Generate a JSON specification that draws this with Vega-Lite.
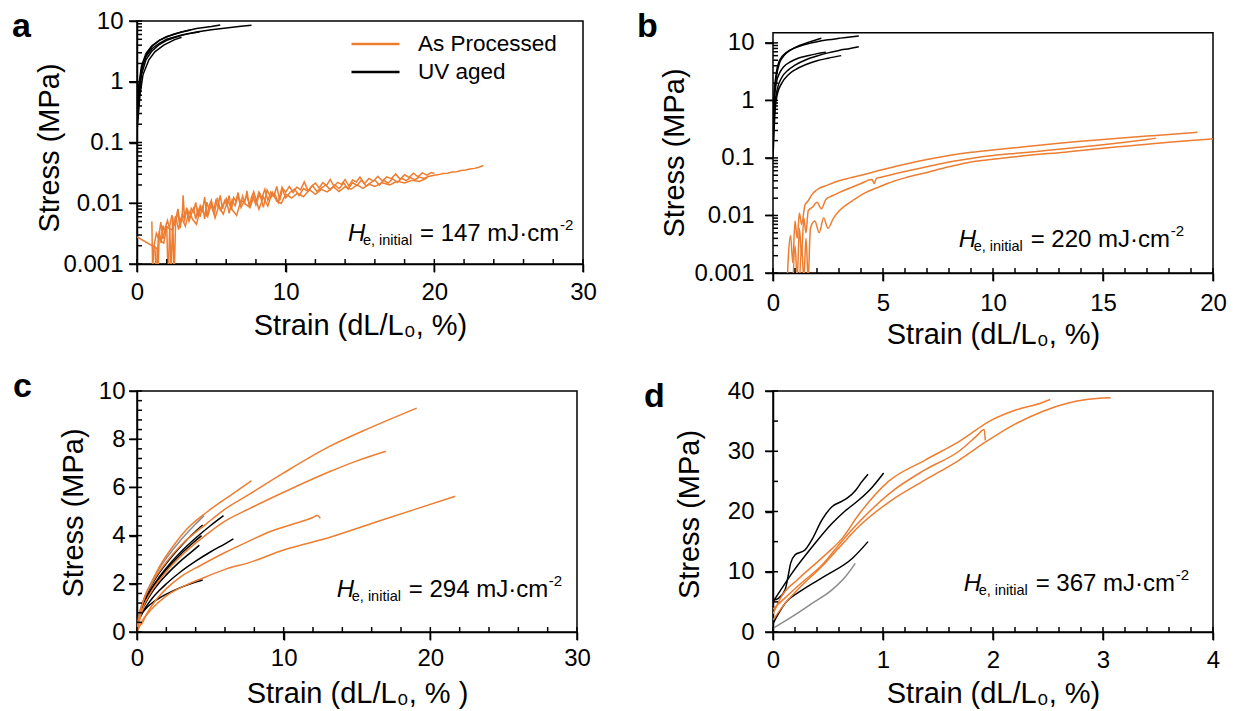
{
  "$schema": "https://vega.github.io/schema/vega-lite/v6.json",
  "autosize": {"type": "none"},
  "padding": {"left": 137, "top": 21, "right": 1097, "bottom": 690},
  "background": "white",
  "columns": 2,
  "spacing": {"row": 118, "column": 190},
  "bounds": "flush",
  "align": {"row": "all", "column": "none"},
  "resolve": {"scale": {"color": "independent"}, "legend": {"color": "independent"}},
  "concat": [
    {
      "width": 446, "height": 243,
      "title": {"text": "a", "anchor": "start", "frame": "group", "orient": "top", "offset": 0, "dx": -125, "dy": 62, "baseline": "alphabetic", "fontSize": 34, "fontWeight": "bold", "font": "Liberation Sans", "color": "black"},
      "layer": [
        {"data": {"values": [
      {"s":"O1","g":"As Processed","x":1.0,"y":0.005},{"s":"O1","g":"As Processed","x":1.05,"y":0.0008},{"s":"O1","g":"As Processed","x":1.15,"y":0.002},{"s":"O1","g":"As Processed","x":1.3,"y":0.0032},{"s":"O1","g":"As Processed","x":1.45,"y":0.0026},{"s":"O1","g":"As Processed","x":1.6,"y":0.0049},{"s":"O1","g":"As Processed","x":1.75,"y":0.0026},{"s":"O1","g":"As Processed","x":1.9,"y":0.004},{"s":"O1","g":"As Processed","x":2.05,"y":0.0052},{"s":"O1","g":"As Processed","x":2.2,"y":0.0038},{"s":"O1","g":"As Processed","x":2.3,"y":0.0007},{"s":"O1","g":"As Processed","x":2.4,"y":0.006},{"s":"O1","g":"As Processed","x":2.5,"y":0.0006},{"s":"O1","g":"As Processed","x":2.6,"y":0.0052},{"s":"O1","g":"As Processed","x":2.75,"y":0.0081},{"s":"O1","g":"As Processed","x":2.9,"y":0.0048},{"s":"O1","g":"As Processed","x":3.05,"y":0.0067},{"s":"O1","g":"As Processed","x":3.1,"y":0.0135},{"s":"O1","g":"As Processed","x":3.2,"y":0.0057},{"s":"O1","g":"As Processed","x":3.35,"y":0.0085},{"s":"O1","g":"As Processed","x":3.5,"y":0.0051},{"s":"O1","g":"As Processed","x":3.65,"y":0.0082},{"s":"O1","g":"As Processed","x":3.8,"y":0.0072},{"s":"O1","g":"As Processed","x":3.95,"y":0.0103},{"s":"O1","g":"As Processed","x":4.1,"y":0.0061},{"s":"O1","g":"As Processed","x":4.25,"y":0.0091},{"s":"O1","g":"As Processed","x":4.4,"y":0.0072},{"s":"O1","g":"As Processed","x":4.55,"y":0.0126},{"s":"O1","g":"As Processed","x":4.7,"y":0.0062},{"s":"O1","g":"As Processed","x":4.85,"y":0.0091},{"s":"O1","g":"As Processed","x":5.0,"y":0.0112},{"s":"O1","g":"As Processed","x":5.15,"y":0.0076},{"s":"O1","g":"As Processed","x":5.3,"y":0.011},{"s":"O1","g":"As Processed","x":5.45,"y":0.0088},{"s":"O1","g":"As Processed","x":5.6,"y":0.0135},{"s":"O1","g":"As Processed","x":5.75,"y":0.008},{"s":"O1","g":"As Processed","x":5.9,"y":0.0109},{"s":"O1","g":"As Processed","x":6.05,"y":0.0093},{"s":"O1","g":"As Processed","x":6.2,"y":0.0134},{"s":"O1","g":"As Processed","x":6.35,"y":0.0078},{"s":"O1","g":"As Processed","x":6.5,"y":0.0124},{"s":"O1","g":"As Processed","x":6.65,"y":0.0107},{"s":"O1","g":"As Processed","x":6.8,"y":0.015},{"s":"O1","g":"As Processed","x":6.95,"y":0.0088},{"s":"O1","g":"As Processed","x":7.1,"y":0.0131},{"s":"O1","g":"As Processed","x":7.25,"y":0.0103},{"s":"O1","g":"As Processed","x":7.4,"y":0.016},{"s":"O1","g":"As Processed","x":7.55,"y":0.0088},{"s":"O1","g":"As Processed","x":7.7,"y":0.0126},{"s":"O1","g":"As Processed","x":7.85,"y":0.0154},{"s":"O1","g":"As Processed","x":8.0,"y":0.0104},{"s":"O1","g":"As Processed","x":8.2,"y":0.0153},{"s":"O1","g":"As Processed","x":8.4,"y":0.0122},{"s":"O1","g":"As Processed","x":8.6,"y":0.017},{"s":"O1","g":"As Processed","x":8.8,"y":0.0111},{"s":"O1","g":"As Processed","x":9.0,"y":0.0152},{"s":"O1","g":"As Processed","x":9.2,"y":0.013},{"s":"O1","g":"As Processed","x":9.4,"y":0.0189},{"s":"O1","g":"As Processed","x":9.6,"y":0.0111},{"s":"O1","g":"As Processed","x":9.8,"y":0.0176},{"s":"O1","g":"As Processed","x":10.0,"y":0.0152},{"s":"O1","g":"As Processed","x":10.25,"y":0.019},{"s":"O1","g":"As Processed","x":10.5,"y":0.015},{"s":"O1","g":"As Processed","x":10.75,"y":0.0184},{"s":"O1","g":"As Processed","x":11.0,"y":0.0166},{"s":"O1","g":"As Processed","x":11.25,"y":0.0224},{"s":"O1","g":"As Processed","x":11.5,"y":0.016},{"s":"O1","g":"As Processed","x":11.75,"y":0.0191},{"s":"O1","g":"As Processed","x":12.0,"y":0.0215},{"s":"O1","g":"As Processed","x":12.25,"y":0.0179},{"s":"O1","g":"As Processed","x":12.5,"y":0.0219},{"s":"O1","g":"As Processed","x":12.75,"y":0.0196},{"s":"O1","g":"As Processed","x":13.0,"y":0.0246},{"s":"O1","g":"As Processed","x":13.25,"y":0.019},{"s":"O1","g":"As Processed","x":13.5,"y":0.0221},{"s":"O1","g":"As Processed","x":13.75,"y":0.0205},{"s":"O1","g":"As Processed","x":14.0,"y":0.0246},{"s":"O1","g":"As Processed","x":14.25,"y":0.0193},{"s":"O1","g":"As Processed","x":14.5,"y":0.0242},{"s":"O1","g":"As Processed","x":14.75,"y":0.0224},{"s":"O1","g":"As Processed","x":15.0,"y":0.027},{"s":"O1","g":"As Processed","x":15.3,"y":0.021},{"s":"O1","g":"As Processed","x":15.6,"y":0.0256},{"s":"O1","g":"As Processed","x":15.9,"y":0.0231},{"s":"O1","g":"As Processed","x":16.2,"y":0.0278},{"s":"O1","g":"As Processed","x":16.5,"y":0.0232},{"s":"O1","g":"As Processed","x":16.8,"y":0.0272},{"s":"O1","g":"As Processed","x":17.1,"y":0.0254},{"s":"O1","g":"As Processed","x":17.4,"y":0.0304},{"s":"O1","g":"As Processed","x":17.7,"y":0.0248},{"s":"O1","g":"As Processed","x":18.0,"y":0.0294},{"s":"O1","g":"As Processed","x":18.3,"y":0.0267},{"s":"O1","g":"As Processed","x":18.6,"y":0.0312},{"s":"O1","g":"As Processed","x":18.9,"y":0.0272},{"s":"O1","g":"As Processed","x":19.2,"y":0.0316},{"s":"O1","g":"As Processed","x":19.5,"y":0.029},{"s":"O1","g":"As Processed","x":19.8,"y":0.0319},{"s":"O1","g":"As Processed","x":20.0,"y":0.031},
      {"s":"O2","g":"As Processed","x":0,"y":0.0028},{"s":"O2","g":"As Processed","x":1.35,"y":0.0018},{"s":"O2","g":"As Processed","x":1.4,"y":0.0005},{"s":"O2","g":"As Processed","x":1.5,"y":0.0035},{"s":"O2","g":"As Processed","x":1.62,"y":0.0022},{"s":"O2","g":"As Processed","x":1.75,"y":0.0043},{"s":"O2","g":"As Processed","x":1.88,"y":0.0033},{"s":"O2","g":"As Processed","x":2.0,"y":0.0042},{"s":"O2","g":"As Processed","x":2.1,"y":0.0005},{"s":"O2","g":"As Processed","x":2.2,"y":0.0042},{"s":"O2","g":"As Processed","x":2.35,"y":0.0064},{"s":"O2","g":"As Processed","x":2.48,"y":0.0042},{"s":"O2","g":"As Processed","x":2.6,"y":0.0055},{"s":"O2","g":"As Processed","x":2.75,"y":0.0068},{"s":"O2","g":"As Processed","x":2.9,"y":0.0039},{"s":"O2","g":"As Processed","x":3.05,"y":0.0067},{"s":"O2","g":"As Processed","x":3.2,"y":0.0053},{"s":"O2","g":"As Processed","x":3.35,"y":0.0079},{"s":"O2","g":"As Processed","x":3.5,"y":0.0051},{"s":"O2","g":"As Processed","x":3.65,"y":0.0066},{"s":"O2","g":"As Processed","x":3.8,"y":0.0082},{"s":"O2","g":"As Processed","x":3.95,"y":0.0055},{"s":"O2","g":"As Processed","x":4.1,"y":0.008},{"s":"O2","g":"As Processed","x":4.25,"y":0.006},{"s":"O2","g":"As Processed","x":4.4,"y":0.0092},{"s":"O2","g":"As Processed","x":4.55,"y":0.0055},{"s":"O2","g":"As Processed","x":4.7,"y":0.0104},{"s":"O2","g":"As Processed","x":4.85,"y":0.0078},{"s":"O2","g":"As Processed","x":5.0,"y":0.0092},{"s":"O2","g":"As Processed","x":5.2,"y":0.0065},{"s":"O2","g":"As Processed","x":5.4,"y":0.0123},{"s":"O2","g":"As Processed","x":5.6,"y":0.0077},{"s":"O2","g":"As Processed","x":5.8,"y":0.0097},{"s":"O2","g":"As Processed","x":6.0,"y":0.0119},{"s":"O2","g":"As Processed","x":6.2,"y":0.0068},{"s":"O2","g":"As Processed","x":6.4,"y":0.0114},{"s":"O2","g":"As Processed","x":6.6,"y":0.0091},{"s":"O2","g":"As Processed","x":6.8,"y":0.0135},{"s":"O2","g":"As Processed","x":7.0,"y":0.0085},{"s":"O2","g":"As Processed","x":7.2,"y":0.0108},{"s":"O2","g":"As Processed","x":7.4,"y":0.0132},{"s":"O2","g":"As Processed","x":7.6,"y":0.0088},{"s":"O2","g":"As Processed","x":7.8,"y":0.0127},{"s":"O2","g":"As Processed","x":8.0,"y":0.0094},{"s":"O2","g":"As Processed","x":8.25,"y":0.0144},{"s":"O2","g":"As Processed","x":8.5,"y":0.0086},{"s":"O2","g":"As Processed","x":8.75,"y":0.0165},{"s":"O2","g":"As Processed","x":9.0,"y":0.0124},{"s":"O2","g":"As Processed","x":9.25,"y":0.0147},{"s":"O2","g":"As Processed","x":9.5,"y":0.0103},{"s":"O2","g":"As Processed","x":9.75,"y":0.0182},{"s":"O2","g":"As Processed","x":10.0,"y":0.0122},{"s":"O2","g":"As Processed","x":10.3,"y":0.0152},{"s":"O2","g":"As Processed","x":10.6,"y":0.0171},{"s":"O2","g":"As Processed","x":10.9,"y":0.0133},{"s":"O2","g":"As Processed","x":11.2,"y":0.0175},{"s":"O2","g":"As Processed","x":11.5,"y":0.0158},{"s":"O2","g":"As Processed","x":11.8,"y":0.0196},{"s":"O2","g":"As Processed","x":12.1,"y":0.0157},{"s":"O2","g":"As Processed","x":12.4,"y":0.0178},{"s":"O2","g":"As Processed","x":12.7,"y":0.02},{"s":"O2","g":"As Processed","x":13.0,"y":0.0166},{"s":"O2","g":"As Processed","x":13.3,"y":0.02},{"s":"O2","g":"As Processed","x":13.6,"y":0.0174},{"s":"O2","g":"As Processed","x":13.9,"y":0.0217},{"s":"O2","g":"As Processed","x":14.2,"y":0.017},{"s":"O2","g":"As Processed","x":14.5,"y":0.0219},{"s":"O2","g":"As Processed","x":14.8,"y":0.0196},{"s":"O2","g":"As Processed","x":15.1,"y":0.0242},{"s":"O2","g":"As Processed","x":15.4,"y":0.0192},{"s":"O2","g":"As Processed","x":15.7,"y":0.0216},{"s":"O2","g":"As Processed","x":16.0,"y":0.0242},{"s":"O2","g":"As Processed","x":16.3,"y":0.0199},{"s":"O2","g":"As Processed","x":16.6,"y":0.0239},{"s":"O2","g":"As Processed","x":16.9,"y":0.0215},{"s":"O2","g":"As Processed","x":17.2,"y":0.0254},{"s":"O2","g":"As Processed","x":17.5,"y":0.022},{"s":"O2","g":"As Processed","x":17.8,"y":0.0258},{"s":"O2","g":"As Processed","x":18.1,"y":0.0235},{"s":"O2","g":"As Processed","x":18.4,"y":0.0264},{"s":"O2","g":"As Processed","x":18.7,"y":0.0245},{"s":"O2","g":"As Processed","x":19.0,"y":0.0269},{"s":"O2","g":"As Processed","x":19.3,"y":0.0256},{"s":"O2","g":"As Processed","x":19.6,"y":0.0276},{"s":"O2","g":"As Processed","x":20.0,"y":0.029},{"s":"O2","g":"As Processed","x":20.3,"y":0.0296},{"s":"O2","g":"As Processed","x":20.6,"y":0.0308},{"s":"O2","g":"As Processed","x":20.9,"y":0.0312},{"s":"O2","g":"As Processed","x":21.2,"y":0.0326},{"s":"O2","g":"As Processed","x":21.5,"y":0.0331},{"s":"O2","g":"As Processed","x":21.8,"y":0.0345},{"s":"O2","g":"As Processed","x":22.1,"y":0.0352},{"s":"O2","g":"As Processed","x":22.4,"y":0.0366},{"s":"O2","g":"As Processed","x":22.7,"y":0.0375},{"s":"O2","g":"As Processed","x":23.0,"y":0.0392},{"s":"O2","g":"As Processed","x":23.3,"y":0.0418},
      {"s":"O3","g":"As Processed","x":1.2,"y":0.002},{"s":"O3","g":"As Processed","x":1.3,"y":0.0006},{"s":"O3","g":"As Processed","x":1.45,"y":0.0032},{"s":"O3","g":"As Processed","x":1.6,"y":0.0024},{"s":"O3","g":"As Processed","x":1.8,"y":0.0022},{"s":"O3","g":"As Processed","x":2.0,"y":0.0041},{"s":"O3","g":"As Processed","x":2.2,"y":0.0038},{"s":"O3","g":"As Processed","x":2.4,"y":0.0036},{"s":"O3","g":"As Processed","x":2.6,"y":0.0062},{"s":"O3","g":"As Processed","x":2.8,"y":0.0037},{"s":"O3","g":"As Processed","x":3.0,"y":0.0058},{"s":"O3","g":"As Processed","x":3.25,"y":0.0042},{"s":"O3","g":"As Processed","x":3.5,"y":0.0074},{"s":"O3","g":"As Processed","x":3.75,"y":0.0054},{"s":"O3","g":"As Processed","x":4.0,"y":0.0045},{"s":"O3","g":"As Processed","x":4.25,"y":0.0079},{"s":"O3","g":"As Processed","x":4.5,"y":0.0069},{"s":"O3","g":"As Processed","x":4.75,"y":0.006},{"s":"O3","g":"As Processed","x":5.0,"y":0.01},{"s":"O3","g":"As Processed","x":5.25,"y":0.0057},{"s":"O3","g":"As Processed","x":5.5,"y":0.009},{"s":"O3","g":"As Processed","x":5.8,"y":0.0066},{"s":"O3","g":"As Processed","x":6.1,"y":0.011},{"s":"O3","g":"As Processed","x":6.4,"y":0.0078},{"s":"O3","g":"As Processed","x":6.7,"y":0.0063},{"s":"O3","g":"As Processed","x":7.0,"y":0.0113},{"s":"O3","g":"As Processed","x":7.3,"y":0.0097},{"s":"O3","g":"As Processed","x":7.6,"y":0.0085},{"s":"O3","g":"As Processed","x":7.9,"y":0.0139},{"s":"O3","g":"As Processed","x":8.2,"y":0.008},{"s":"O3","g":"As Processed","x":8.5,"y":0.0127},{"s":"O3","g":"As Processed","x":8.8,"y":0.009},{"s":"O3","g":"As Processed","x":9.1,"y":0.0152},{"s":"O3","g":"As Processed","x":9.4,"y":0.0108},{"s":"O3","g":"As Processed","x":9.7,"y":0.0099},{"s":"O3","g":"As Processed","x":10.0,"y":0.0141},{"s":"O3","g":"As Processed","x":10.4,"y":0.0122},{"s":"O3","g":"As Processed","x":10.8,"y":0.0146},{"s":"O3","g":"As Processed","x":11.2,"y":0.0128},{"s":"O3","g":"As Processed","x":11.6,"y":0.0168},{"s":"O3","g":"As Processed","x":12.0,"y":0.014},{"s":"O3","g":"As Processed","x":12.4,"y":0.0169},{"s":"O3","g":"As Processed","x":12.8,"y":0.0154},{"s":"O3","g":"As Processed","x":13.2,"y":0.0187},{"s":"O3","g":"As Processed","x":13.6,"y":0.0156},{"s":"O3","g":"As Processed","x":14.0,"y":0.0187},{"s":"O3","g":"As Processed","x":14.4,"y":0.017},{"s":"O3","g":"As Processed","x":14.8,"y":0.0201},{"s":"O3","g":"As Processed","x":15.2,"y":0.0176},{"s":"O3","g":"As Processed","x":15.6,"y":0.0205},{"s":"O3","g":"As Processed","x":16.0,"y":0.019},{"s":"O3","g":"As Processed","x":16.5,"y":0.0218},{"s":"O3","g":"As Processed","x":17.0,"y":0.0201},{"s":"O3","g":"As Processed","x":17.5,"y":0.0229},{"s":"O3","g":"As Processed","x":18.0,"y":0.0215},{"s":"O3","g":"As Processed","x":18.5,"y":0.0239},{"s":"O3","g":"As Processed","x":19.0,"y":0.0229},{"s":"O3","g":"As Processed","x":19.5,"y":0.026},
      {"s":"A1","g":"UV aged","x":0,"y":0.25},{"s":"A1","g":"UV aged","x":0.1,"y":0.6},{"s":"A1","g":"UV aged","x":0.2,"y":1.0},{"s":"A1","g":"UV aged","x":0.4,"y":2.0},{"s":"A1","g":"UV aged","x":0.7,"y":3.0},{"s":"A1","g":"UV aged","x":1.0,"y":3.8},{"s":"A1","g":"UV aged","x":1.5,"y":4.8},{"s":"A1","g":"UV aged","x":2,"y":5.5},{"s":"A1","g":"UV aged","x":3,"y":6.6},{"s":"A1","g":"UV aged","x":4,"y":7.5},{"s":"A1","g":"UV aged","x":5,"y":8.1},{"s":"A1","g":"UV aged","x":5.6,"y":8.6},
      {"s":"A2","g":"UV aged","x":0,"y":0.3},{"s":"A2","g":"UV aged","x":0.1,"y":0.7},{"s":"A2","g":"UV aged","x":0.3,"y":1.6},{"s":"A2","g":"UV aged","x":0.6,"y":2.6},{"s":"A2","g":"UV aged","x":1,"y":3.5},{"s":"A2","g":"UV aged","x":1.5,"y":4.3},{"s":"A2","g":"UV aged","x":2,"y":5.0},{"s":"A2","g":"UV aged","x":3,"y":5.9},{"s":"A2","g":"UV aged","x":4,"y":6.6},{"s":"A2","g":"UV aged","x":5,"y":7.2},{"s":"A2","g":"UV aged","x":6,"y":7.7},{"s":"A2","g":"UV aged","x":7,"y":8.2},{"s":"A2","g":"UV aged","x":7.7,"y":8.5},
      {"s":"A3","g":"UV aged","x":0,"y":0.2},{"s":"A3","g":"UV aged","x":0.15,"y":0.6},{"s":"A3","g":"UV aged","x":0.3,"y":1.3},{"s":"A3","g":"UV aged","x":0.6,"y":2.3},{"s":"A3","g":"UV aged","x":1,"y":3.2},{"s":"A3","g":"UV aged","x":1.5,"y":4.1},{"s":"A3","g":"UV aged","x":2,"y":4.8},{"s":"A3","g":"UV aged","x":2.5,"y":5.3},{"s":"A3","g":"UV aged","x":3,"y":5.8},{"s":"A3","g":"UV aged","x":3.5,"y":6.2},{"s":"A3","g":"UV aged","x":4.2,"y":6.6},
      {"s":"A4","g":"UV aged","x":0,"y":0.35},{"s":"A4","g":"UV aged","x":0.1,"y":0.8},{"s":"A4","g":"UV aged","x":0.3,"y":1.8},{"s":"A4","g":"UV aged","x":0.6,"y":2.9},{"s":"A4","g":"UV aged","x":1,"y":3.9},{"s":"A4","g":"UV aged","x":1.5,"y":4.8},{"s":"A4","g":"UV aged","x":2,"y":5.5},{"s":"A4","g":"UV aged","x":2.5,"y":6.1},{"s":"A4","g":"UV aged","x":3,"y":6.6},{"s":"A4","g":"UV aged","x":3.6,"y":7.1},
      {"s":"A5","g":"UV aged","x":0,"y":0.15},{"s":"A5","g":"UV aged","x":0.2,"y":0.6},{"s":"A5","g":"UV aged","x":0.4,"y":1.3},{"s":"A5","g":"UV aged","x":0.8,"y":2.3},{"s":"A5","g":"UV aged","x":1.2,"y":3.1},{"s":"A5","g":"UV aged","x":1.8,"y":4.0},{"s":"A5","g":"UV aged","x":2.5,"y":4.9},{"s":"A5","g":"UV aged","x":3,"y":5.4}
        ]}, "mark": {"type": "line", "clip": true, "strokeWidth": 1.5},
         "encoding": {
           "x": {"field": "x", "type": "quantitative", "scale": {"domain": [0, 30], "nice": false, "zero": false}, "axis": {"orient": "bottom", "values": [0, 10, 20, 30], "tickColor": "black", "tickWidth": 1.5, "tickSize": 8, "labelPadding": 8, "title": "Strain (dL/L₀, %)", "titleY": 70, "titleBaseline": "alphabetic"}},
           "y": {"field": "y", "type": "quantitative", "scale": {"type": "log", "domain": [0.001, 10], "nice": false}, "axis": {"orient": "left", "values": [0.001, 0.01, 0.1, 1, 10], "format": "~g", "tickColor": "black", "tickWidth": 1.5, "tickSize": 8, "labelPadding": 6, "title": "Stress (MPa)", "titleX": -79, "titleY": 126.5, "titleBaseline": "alphabetic"}},
           "color": {"field": "g", "type": "nominal", "scale": {"domain": ["As Processed", "UV aged"], "range": ["#ED7D31", "#000000"]},
             "legend": {"orient": "none", "legendX": 213, "legendY": 11, "title": null, "symbolType": "stroke", "symbolSize": 2304, "symbolStrokeWidth": 2.5, "labelFontSize": 22.5, "labelFont": "Liberation Sans", "labelColor": "black", "clipHeight": 24, "rowPadding": 4, "labelOffset": 17, "padding": 0, "symbolOffset": 0}},
           "detail": {"field": "s", "type": "nominal"}
         }},
        {"data": {"values": [{"v": 0}, {"v": 10}, {"v": 20}, {"v": 30}]}, "mark": {"type": "tick", "orient": "vertical", "size": 13, "thickness": 1.5, "yOffset": 1.5, "color": "black", "opacity": 1},
         "encoding": {"x": {"field": "v", "type": "quantitative", "scale": {"domain": [0, 30], "nice": false, "zero": false}, "axis": null}, "y": {"datum": 0.001, "type": "quantitative", "scale": {"type": "log", "domain": [0.001, 10], "nice": false}, "axis": null}}},
        {"data": {"values": [{"v": 2}, {"v": 4}, {"v": 6}, {"v": 8}, {"v": 12}, {"v": 14}, {"v": 16}, {"v": 18}, {"v": 22}, {"v": 24}, {"v": 26}, {"v": 28}]}, "mark": {"type": "tick", "orient": "vertical", "size": 5, "thickness": 1.5, "yOffset": -2.5, "color": "black", "opacity": 1},
         "encoding": {"x": {"field": "v", "type": "quantitative", "scale": {"domain": [0, 30], "nice": false, "zero": false}, "axis": null}, "y": {"datum": 0.001, "type": "quantitative", "scale": {"type": "log", "domain": [0.001, 10], "nice": false}, "axis": null}}},
        {"data": {"values": [{"v": 0.001}, {"v": 0.01}, {"v": 0.1}, {"v": 1}, {"v": 10}]}, "mark": {"type": "tick", "orient": "horizontal", "size": 13, "thickness": 1.5, "xOffset": -1.5, "color": "black", "opacity": 1},
         "encoding": {"y": {"field": "v", "type": "quantitative", "scale": {"type": "log", "domain": [0.001, 10], "nice": false}, "axis": null}, "x": {"datum": 0, "type": "quantitative", "scale": {"domain": [0, 30], "nice": false, "zero": false}, "axis": null}}},
        {"data": {"values": [{"v": 0.002}, {"v": 0.003}, {"v": 0.004}, {"v": 0.005}, {"v": 0.006}, {"v": 0.007}, {"v": 0.008}, {"v": 0.009}, {"v": 0.02}, {"v": 0.03}, {"v": 0.04}, {"v": 0.05}, {"v": 0.06}, {"v": 0.07}, {"v": 0.08}, {"v": 0.09}, {"v": 0.2}, {"v": 0.3}, {"v": 0.4}, {"v": 0.5}, {"v": 0.6}, {"v": 0.7}, {"v": 0.8}, {"v": 0.9}, {"v": 2}, {"v": 3}, {"v": 4}, {"v": 5}, {"v": 6}, {"v": 7}, {"v": 8}, {"v": 9}]}, "mark": {"type": "tick", "orient": "horizontal", "size": 5, "thickness": 1.5, "xOffset": 2.5, "color": "black", "opacity": 1},
         "encoding": {"y": {"field": "v", "type": "quantitative", "scale": {"type": "log", "domain": [0.001, 10], "nice": false}, "axis": null}, "x": {"datum": 0, "type": "quantitative", "scale": {"domain": [0, 30], "nice": false, "zero": false}, "axis": null}}},
        {"data": {"values": [{"x": 14.19, "y": 0.00239, "label": "= 147 mJ·cm"}]}, "mark": {"type": "text", "text": "H", "font": "Liberation Sans", "color": "black", "fontStyle": "italic", "fontSize": 24, "align": "left", "baseline": "alphabetic"},
         "encoding": {"x": {"field": "x", "type": "quantitative", "scale": {"domain": [0, 30], "nice": false, "zero": false}, "axis": null}, "y": {"field": "y", "type": "quantitative", "scale": {"type": "log", "domain": [0.001, 10], "nice": false}, "axis": null}}},
        {"data": {"values": [{"x": 14.19, "y": 0.00239, "label": "= 147 mJ·cm"}]}, "mark": {"type": "text", "text": "e, initial", "font": "Liberation Sans", "color": "black", "fontSize": 14.5, "dx": 15, "dy": 4, "align": "left", "baseline": "alphabetic"},
         "encoding": {"x": {"field": "x", "type": "quantitative", "scale": {"domain": [0, 30], "nice": false, "zero": false}, "axis": null}, "y": {"field": "y", "type": "quantitative", "scale": {"type": "log", "domain": [0.001, 10], "nice": false}, "axis": null}}},
        {"data": {"values": [{"x": 14.19, "y": 0.00239, "label": "= 147 mJ·cm"}]}, "mark": {"type": "text", "font": "Liberation Sans", "color": "black", "fontSize": 24, "dx": 72, "align": "left", "baseline": "alphabetic"},
         "encoding": {"x": {"field": "x", "type": "quantitative", "scale": {"domain": [0, 30], "nice": false, "zero": false}, "axis": null}, "y": {"field": "y", "type": "quantitative", "scale": {"type": "log", "domain": [0.001, 10], "nice": false}, "axis": null}, "text": {"field": "label"}}},
        {"data": {"values": [{"x": 14.19, "y": 0.00239, "label": "= 147 mJ·cm"}]}, "mark": {"type": "text", "text": "-2", "font": "Liberation Sans", "color": "black", "fontSize": 15, "dx": 212, "dy": -11, "align": "left", "baseline": "alphabetic"},
         "encoding": {"x": {"field": "x", "type": "quantitative", "scale": {"domain": [0, 30], "nice": false, "zero": false}, "axis": null}, "y": {"field": "y", "type": "quantitative", "scale": {"type": "log", "domain": [0.001, 10], "nice": false}, "axis": null}}}
      ],
      "resolve": {"axis": {"x": "independent", "y": "independent"}}
    },
    {
      "width": 440, "height": 252,
      "view": {"stroke": null},
      "title": {"text": "b", "anchor": "start", "frame": "group", "orient": "top", "offset": 0, "dx": -136, "dy": 50, "baseline": "alphabetic", "fontSize": 34, "fontWeight": "bold", "font": "Liberation Sans", "color": "black"},
      "layer": [
        {"data": {"values": [{"x0": 0, "x1": 20, "y0": 0.001, "y1": 15}]}, "mark": {"type": "rect", "fill": "transparent", "stroke": "black", "strokeWidth": 1.5},
         "encoding": {"x": {"field": "x0", "type": "quantitative", "scale": {"domain": [0, 20], "nice": false, "zero": false}, "axis": null}, "x2": {"field": "x1"}, "y": {"field": "y0", "type": "quantitative", "scale": {"type": "log", "domain": [0.001, 24], "nice": false}, "axis": null}, "y2": {"field": "y1"}}},
        {"data": {"values": [
      {"s":"B1","g":"UV aged","x":0,"y":0.2},{"s":"B1","g":"UV aged","x":0.05,"y":1},{"s":"B1","g":"UV aged","x":0.15,"y":2.5},{"s":"B1","g":"UV aged","x":0.3,"y":4.5},{"s":"B1","g":"UV aged","x":0.5,"y":6},{"s":"B1","g":"UV aged","x":0.8,"y":7.5},{"s":"B1","g":"UV aged","x":1.2,"y":9},{"s":"B1","g":"UV aged","x":1.7,"y":10.5},{"s":"B1","g":"UV aged","x":2.2,"y":12},
      {"s":"B2","g":"UV aged","x":0,"y":0.3},{"s":"B2","g":"UV aged","x":0.05,"y":1.2},{"s":"B2","g":"UV aged","x":0.15,"y":3},{"s":"B2","g":"UV aged","x":0.3,"y":5},{"s":"B2","g":"UV aged","x":0.6,"y":6.8},{"s":"B2","g":"UV aged","x":1,"y":8.2},{"s":"B2","g":"UV aged","x":1.5,"y":9.5},{"s":"B2","g":"UV aged","x":2,"y":10.5},{"s":"B2","g":"UV aged","x":2.5,"y":11.3},{"s":"B2","g":"UV aged","x":3,"y":12},{"s":"B2","g":"UV aged","x":3.5,"y":12.7},{"s":"B2","g":"UV aged","x":3.9,"y":13.2},
      {"s":"B3","g":"UV aged","x":0,"y":0.2},{"s":"B3","g":"UV aged","x":0.05,"y":0.9},{"s":"B3","g":"UV aged","x":0.15,"y":2},{"s":"B3","g":"UV aged","x":0.3,"y":3},{"s":"B3","g":"UV aged","x":0.5,"y":3.9},{"s":"B3","g":"UV aged","x":0.8,"y":4.7},{"s":"B3","g":"UV aged","x":1.2,"y":5.5},{"s":"B3","g":"UV aged","x":1.7,"y":6.1},{"s":"B3","g":"UV aged","x":2.0,"y":6.5},{"s":"B3","g":"UV aged","x":2.4,"y":6.9},
      {"s":"B4","g":"UV aged","x":0,"y":0.15},{"s":"B4","g":"UV aged","x":0.08,"y":0.8},{"s":"B4","g":"UV aged","x":0.2,"y":1.6},{"s":"B4","g":"UV aged","x":0.4,"y":2.5},{"s":"B4","g":"UV aged","x":0.7,"y":3.4},{"s":"B4","g":"UV aged","x":1.0,"y":4.1},{"s":"B4","g":"UV aged","x":1.5,"y":5.1},{"s":"B4","g":"UV aged","x":2,"y":5.9},{"s":"B4","g":"UV aged","x":2.5,"y":6.7},{"s":"B4","g":"UV aged","x":3,"y":7.4},{"s":"B4","g":"UV aged","x":3.5,"y":8.0},{"s":"B4","g":"UV aged","x":3.9,"y":8.6},
      {"s":"B5","g":"UV aged","x":0,"y":0.1},{"s":"B5","g":"UV aged","x":0.1,"y":0.7},{"s":"B5","g":"UV aged","x":0.2,"y":1.3},{"s":"B5","g":"UV aged","x":0.4,"y":2.0},{"s":"B5","g":"UV aged","x":0.7,"y":2.8},{"s":"B5","g":"UV aged","x":1,"y":3.4},{"s":"B5","g":"UV aged","x":1.5,"y":4.2},{"s":"B5","g":"UV aged","x":2,"y":4.9},{"s":"B5","g":"UV aged","x":2.5,"y":5.4},{"s":"B5","g":"UV aged","x":3.1,"y":6.0},
      {"s":"OB1","g":"As Processed","x":0.63,"y":0.0005},{"s":"OB1","g":"As Processed","x":0.7,"y":0.002},{"s":"OB1","g":"As Processed","x":0.8,"y":0.0045},{"s":"OB1","g":"As Processed","x":0.9,"y":0.0015},{"s":"OB1","g":"As Processed","x":1.0,"y":0.008},{"s":"OB1","g":"As Processed","x":1.1,"y":0.004},{"s":"OB1","g":"As Processed","x":1.2,"y":0.011},{"s":"OB1","g":"As Processed","x":1.3,"y":0.007},{"s":"OB1","g":"As Processed","x":1.45,"y":0.015},{"s":"OB1","g":"As Processed","x":1.6,"y":0.018},{"s":"OB1","g":"As Processed","x":1.8,"y":0.024},{"s":"OB1","g":"As Processed","x":2.0,"y":0.028},{"s":"OB1","g":"As Processed","x":2.5,"y":0.034},{"s":"OB1","g":"As Processed","x":3,"y":0.04},{"s":"OB1","g":"As Processed","x":3.5,"y":0.045},{"s":"OB1","g":"As Processed","x":4,"y":0.05},{"s":"OB1","g":"As Processed","x":5,"y":0.063},{"s":"OB1","g":"As Processed","x":6,"y":0.078},{"s":"OB1","g":"As Processed","x":7,"y":0.094},{"s":"OB1","g":"As Processed","x":8,"y":0.11},{"s":"OB1","g":"As Processed","x":9,"y":0.125},{"s":"OB1","g":"As Processed","x":10,"y":0.138},{"s":"OB1","g":"As Processed","x":11,"y":0.15},{"s":"OB1","g":"As Processed","x":12,"y":0.165},{"s":"OB1","g":"As Processed","x":13,"y":0.18},{"s":"OB1","g":"As Processed","x":14,"y":0.195},{"s":"OB1","g":"As Processed","x":15,"y":0.21},{"s":"OB1","g":"As Processed","x":16,"y":0.225},{"s":"OB1","g":"As Processed","x":17,"y":0.24},{"s":"OB1","g":"As Processed","x":18,"y":0.255},{"s":"OB1","g":"As Processed","x":19.3,"y":0.28},
      {"s":"OB2","g":"As Processed","x":0.9,"y":0.0005},{"s":"OB2","g":"As Processed","x":1.0,"y":0.003},{"s":"OB2","g":"As Processed","x":1.1,"y":0.0008},{"s":"OB2","g":"As Processed","x":1.2,"y":0.006},{"s":"OB2","g":"As Processed","x":1.3,"y":0.002},{"s":"OB2","g":"As Processed","x":1.4,"y":0.009},{"s":"OB2","g":"As Processed","x":1.5,"y":0.005},{"s":"OB2","g":"As Processed","x":1.6,"y":0.012},{"s":"OB2","g":"As Processed","x":1.8,"y":0.014},{"s":"OB2","g":"As Processed","x":2.0,"y":0.017},{"s":"OB2","g":"As Processed","x":2.2,"y":0.013},{"s":"OB2","g":"As Processed","x":2.4,"y":0.019},{"s":"OB2","g":"As Processed","x":2.7,"y":0.022},{"s":"OB2","g":"As Processed","x":3,"y":0.025},{"s":"OB2","g":"As Processed","x":3.5,"y":0.03},{"s":"OB2","g":"As Processed","x":4,"y":0.036},{"s":"OB2","g":"As Processed","x":4.5,"y":0.042},{"s":"OB2","g":"As Processed","x":4.6,"y":0.036},{"s":"OB2","g":"As Processed","x":4.7,"y":0.044},{"s":"OB2","g":"As Processed","x":5,"y":0.047},{"s":"OB2","g":"As Processed","x":6,"y":0.058},{"s":"OB2","g":"As Processed","x":7,"y":0.07},{"s":"OB2","g":"As Processed","x":8,"y":0.085},{"s":"OB2","g":"As Processed","x":9,"y":0.098},{"s":"OB2","g":"As Processed","x":10,"y":0.11},{"s":"OB2","g":"As Processed","x":11,"y":0.12},{"s":"OB2","g":"As Processed","x":12,"y":0.13},{"s":"OB2","g":"As Processed","x":13,"y":0.142},{"s":"OB2","g":"As Processed","x":14,"y":0.155},{"s":"OB2","g":"As Processed","x":15,"y":0.17},{"s":"OB2","g":"As Processed","x":16,"y":0.188},{"s":"OB2","g":"As Processed","x":17,"y":0.21},{"s":"OB2","g":"As Processed","x":17.4,"y":0.22},
      {"s":"OB3","g":"As Processed","x":1.2,"y":0.0005},{"s":"OB3","g":"As Processed","x":1.3,"y":0.003},{"s":"OB3","g":"As Processed","x":1.4,"y":0.0008},{"s":"OB3","g":"As Processed","x":1.5,"y":0.004},{"s":"OB3","g":"As Processed","x":1.6,"y":0.0008},{"s":"OB3","g":"As Processed","x":1.7,"y":0.006},{"s":"OB3","g":"As Processed","x":1.9,"y":0.008},{"s":"OB3","g":"As Processed","x":2.1,"y":0.005},{"s":"OB3","g":"As Processed","x":2.3,"y":0.009},{"s":"OB3","g":"As Processed","x":2.5,"y":0.006},{"s":"OB3","g":"As Processed","x":2.75,"y":0.009},{"s":"OB3","g":"As Processed","x":3.0,"y":0.012},{"s":"OB3","g":"As Processed","x":3.3,"y":0.015},{"s":"OB3","g":"As Processed","x":3.7,"y":0.019},{"s":"OB3","g":"As Processed","x":4.2,"y":0.025},{"s":"OB3","g":"As Processed","x":4.7,"y":0.03},{"s":"OB3","g":"As Processed","x":5.2,"y":0.036},{"s":"OB3","g":"As Processed","x":6,"y":0.045},{"s":"OB3","g":"As Processed","x":7,"y":0.056},{"s":"OB3","g":"As Processed","x":8,"y":0.07},{"s":"OB3","g":"As Processed","x":9,"y":0.085},{"s":"OB3","g":"As Processed","x":10,"y":0.095},{"s":"OB3","g":"As Processed","x":11,"y":0.105},{"s":"OB3","g":"As Processed","x":12,"y":0.115},{"s":"OB3","g":"As Processed","x":13,"y":0.123},{"s":"OB3","g":"As Processed","x":14,"y":0.135},{"s":"OB3","g":"As Processed","x":15,"y":0.148},{"s":"OB3","g":"As Processed","x":16,"y":0.16},{"s":"OB3","g":"As Processed","x":17,"y":0.173},{"s":"OB3","g":"As Processed","x":18,"y":0.187},{"s":"OB3","g":"As Processed","x":19,"y":0.2},{"s":"OB3","g":"As Processed","x":20,"y":0.215}
        ]}, "mark": {"type": "line", "clip": true, "strokeWidth": 1.5, "interpolate": "monotone"},
         "encoding": {
           "x": {"field": "x", "type": "quantitative", "scale": {"domain": [0, 20], "nice": false, "zero": false}, "axis": {"orient": "bottom", "values": [0, 5, 10, 15, 20], "tickColor": "black", "tickWidth": 1.5, "tickSize": 8, "labelPadding": 10, "title": "Strain (dL/L₀, %)", "titleY": 70, "titleBaseline": "alphabetic"}},
           "y": {"field": "y", "type": "quantitative", "scale": {"type": "log", "domain": [0.001, 24], "nice": false}, "axis": {"orient": "left", "values": [0.001, 0.01, 0.1, 1, 10], "format": "~g", "domain": false, "tickColor": "black", "tickWidth": 1.5, "tickSize": 8, "labelPadding": 11, "title": "Stress (MPa)", "titleX": -90, "titleY": 131.5, "titleBaseline": "alphabetic"}},
           "color": {"field": "g", "type": "nominal", "scale": {"domain": ["As Processed", "UV aged"], "range": ["#ED7D31", "#000000"]}, "legend": null},
           "detail": {"field": "s", "type": "nominal"}
         }},
        {"data": {"values": [{"v": 0}, {"v": 5}, {"v": 10}, {"v": 15}, {"v": 20}]}, "mark": {"type": "tick", "orient": "vertical", "size": 13, "thickness": 1.5, "yOffset": 1.5, "color": "black", "opacity": 1},
         "encoding": {"x": {"field": "v", "type": "quantitative", "scale": {"domain": [0, 20], "nice": false, "zero": false}, "axis": null}, "y": {"datum": 0.001, "type": "quantitative", "scale": {"type": "log", "domain": [0.001, 24], "nice": false}, "axis": null}}},
        {"data": {"values": [{"v": 1}, {"v": 2}, {"v": 3}, {"v": 4}, {"v": 6}, {"v": 7}, {"v": 8}, {"v": 9}, {"v": 11}, {"v": 12}, {"v": 13}, {"v": 14}, {"v": 16}, {"v": 17}, {"v": 18}, {"v": 19}]}, "mark": {"type": "tick", "orient": "vertical", "size": 5, "thickness": 1.5, "yOffset": -2.5, "color": "black", "opacity": 1},
         "encoding": {"x": {"field": "v", "type": "quantitative", "scale": {"domain": [0, 20], "nice": false, "zero": false}, "axis": null}, "y": {"datum": 0.001, "type": "quantitative", "scale": {"type": "log", "domain": [0.001, 24], "nice": false}, "axis": null}}},
        {"data": {"values": [{"v": 0.001}, {"v": 0.01}, {"v": 0.1}, {"v": 1}, {"v": 10}]}, "mark": {"type": "tick", "orient": "horizontal", "size": 13, "thickness": 1.5, "xOffset": -1.5, "color": "black", "opacity": 1},
         "encoding": {"y": {"field": "v", "type": "quantitative", "scale": {"type": "log", "domain": [0.001, 24], "nice": false}, "axis": null}, "x": {"datum": 0, "type": "quantitative", "scale": {"domain": [0, 20], "nice": false, "zero": false}, "axis": null}}},
        {"data": {"values": [{"v": 0.002}, {"v": 0.003}, {"v": 0.004}, {"v": 0.005}, {"v": 0.006}, {"v": 0.007}, {"v": 0.008}, {"v": 0.009}, {"v": 0.02}, {"v": 0.03}, {"v": 0.04}, {"v": 0.05}, {"v": 0.06}, {"v": 0.07}, {"v": 0.08}, {"v": 0.09}, {"v": 0.2}, {"v": 0.3}, {"v": 0.4}, {"v": 0.5}, {"v": 0.6}, {"v": 0.7}, {"v": 0.8}, {"v": 0.9}, {"v": 2}, {"v": 3}, {"v": 4}, {"v": 5}, {"v": 6}, {"v": 7}, {"v": 8}, {"v": 9}]}, "mark": {"type": "tick", "orient": "horizontal", "size": 5, "thickness": 1.5, "xOffset": 2.5, "color": "black", "opacity": 1},
         "encoding": {"y": {"field": "v", "type": "quantitative", "scale": {"type": "log", "domain": [0.001, 24], "nice": false}, "axis": null}, "x": {"datum": 0, "type": "quantitative", "scale": {"domain": [0, 20], "nice": false, "zero": false}, "axis": null}}},
        {"data": {"values": [{"x": 8.44, "y": 0.00287, "label": "= 220 mJ·cm"}]}, "mark": {"type": "text", "text": "H", "font": "Liberation Sans", "color": "black", "fontStyle": "italic", "fontSize": 24, "align": "left", "baseline": "alphabetic"},
         "encoding": {"x": {"field": "x", "type": "quantitative", "scale": {"domain": [0, 20], "nice": false, "zero": false}, "axis": null}, "y": {"field": "y", "type": "quantitative", "scale": {"type": "log", "domain": [0.001, 24], "nice": false}, "axis": null}}},
        {"data": {"values": [{"x": 8.44, "y": 0.00287, "label": "= 220 mJ·cm"}]}, "mark": {"type": "text", "text": "e, initial", "font": "Liberation Sans", "color": "black", "fontSize": 14.5, "dx": 15, "dy": 4, "align": "left", "baseline": "alphabetic"},
         "encoding": {"x": {"field": "x", "type": "quantitative", "scale": {"domain": [0, 20], "nice": false, "zero": false}, "axis": null}, "y": {"field": "y", "type": "quantitative", "scale": {"type": "log", "domain": [0.001, 24], "nice": false}, "axis": null}}},
        {"data": {"values": [{"x": 8.44, "y": 0.00287, "label": "= 220 mJ·cm"}]}, "mark": {"type": "text", "font": "Liberation Sans", "color": "black", "fontSize": 24, "dx": 72, "align": "left", "baseline": "alphabetic"},
         "encoding": {"x": {"field": "x", "type": "quantitative", "scale": {"domain": [0, 20], "nice": false, "zero": false}, "axis": null}, "y": {"field": "y", "type": "quantitative", "scale": {"type": "log", "domain": [0.001, 24], "nice": false}, "axis": null}, "text": {"field": "label"}}},
        {"data": {"values": [{"x": 8.44, "y": 0.00287, "label": "= 220 mJ·cm"}]}, "mark": {"type": "text", "text": "-2", "font": "Liberation Sans", "color": "black", "fontSize": 15, "dx": 212, "dy": -11, "align": "left", "baseline": "alphabetic"},
         "encoding": {"x": {"field": "x", "type": "quantitative", "scale": {"domain": [0, 20], "nice": false, "zero": false}, "axis": null}, "y": {"field": "y", "type": "quantitative", "scale": {"type": "log", "domain": [0.001, 24], "nice": false}, "axis": null}}}
      ],
      "resolve": {"axis": {"x": "independent", "y": "independent"}}
    },
    {
      "width": 440, "height": 241,
      "title": {"text": "c", "anchor": "start", "frame": "group", "orient": "top", "offset": 0, "dx": -124, "dy": 52, "baseline": "alphabetic", "fontSize": 34, "fontWeight": "bold", "font": "Liberation Sans", "color": "black"},
      "layer": [
        {"data": {"values": [
      {"s":"K1","g":"UV aged","x":0,"y":0},{"s":"K1","g":"UV aged","x":0.1,"y":0.51},{"s":"K1","g":"UV aged","x":0.3,"y":0.94},{"s":"K1","g":"UV aged","x":0.6,"y":1.37},{"s":"K1","g":"UV aged","x":1,"y":1.82},{"s":"K1","g":"UV aged","x":1.5,"y":2.27},{"s":"K1","g":"UV aged","x":2,"y":2.66},{"s":"K1","g":"UV aged","x":3,"y":3.33},{"s":"K1","g":"UV aged","x":4,"y":3.9},{"s":"K1","g":"UV aged","x":5,"y":4.41},{"s":"K1","g":"UV aged","x":5.9,"y":4.83},
      {"s":"K2","g":"UV aged","x":0,"y":0},{"s":"K2","g":"UV aged","x":0.1,"y":0.39},{"s":"K2","g":"UV aged","x":0.3,"y":0.71},{"s":"K2","g":"UV aged","x":0.6,"y":1.03},{"s":"K2","g":"UV aged","x":1,"y":1.37},{"s":"K2","g":"UV aged","x":1.5,"y":1.71},{"s":"K2","g":"UV aged","x":2,"y":2.0},{"s":"K2","g":"UV aged","x":3,"y":2.51},{"s":"K2","g":"UV aged","x":4,"y":2.94},{"s":"K2","g":"UV aged","x":5,"y":3.32},{"s":"K2","g":"UV aged","x":6,"y":3.66},{"s":"K2","g":"UV aged","x":6.57,"y":3.86},
      {"s":"K3","g":"UV aged","x":0,"y":0},{"s":"K3","g":"UV aged","x":0.1,"y":0.55},{"s":"K3","g":"UV aged","x":0.3,"y":1.0},{"s":"K3","g":"UV aged","x":0.6,"y":1.47},{"s":"K3","g":"UV aged","x":1,"y":1.95},{"s":"K3","g":"UV aged","x":1.5,"y":2.44},{"s":"K3","g":"UV aged","x":2,"y":2.85},{"s":"K3","g":"UV aged","x":3,"y":3.57},{"s":"K3","g":"UV aged","x":4,"y":4.18},{"s":"K3","g":"UV aged","x":4.48,"y":4.44},
      {"s":"K4","g":"UV aged","x":0,"y":0},{"s":"K4","g":"UV aged","x":0.1,"y":0.5},{"s":"K4","g":"UV aged","x":0.3,"y":0.91},{"s":"K4","g":"UV aged","x":0.6,"y":1.34},{"s":"K4","g":"UV aged","x":1,"y":1.77},{"s":"K4","g":"UV aged","x":1.5,"y":2.21},{"s":"K4","g":"UV aged","x":2,"y":2.59},{"s":"K4","g":"UV aged","x":3,"y":3.24},{"s":"K4","g":"UV aged","x":4,"y":3.79},{"s":"K4","g":"UV aged","x":4.4,"y":4.0},
      {"s":"K5","g":"UV aged","x":0,"y":0},{"s":"K5","g":"UV aged","x":0.1,"y":0.46},{"s":"K5","g":"UV aged","x":0.3,"y":0.84},{"s":"K5","g":"UV aged","x":0.6,"y":1.22},{"s":"K5","g":"UV aged","x":1,"y":1.62},{"s":"K5","g":"UV aged","x":1.5,"y":2.03},{"s":"K5","g":"UV aged","x":2,"y":2.37},{"s":"K5","g":"UV aged","x":3,"y":2.96},{"s":"K5","g":"UV aged","x":4,"y":3.47},{"s":"K5","g":"UV aged","x":4.25,"y":3.6},
      {"s":"K6","g":"UV aged","x":0,"y":0},{"s":"K6","g":"UV aged","x":0.1,"y":0.47},{"s":"K6","g":"UV aged","x":0.3,"y":0.74},{"s":"K6","g":"UV aged","x":0.6,"y":0.97},{"s":"K6","g":"UV aged","x":1,"y":1.19},{"s":"K6","g":"UV aged","x":1.5,"y":1.4},{"s":"K6","g":"UV aged","x":2,"y":1.57},{"s":"K6","g":"UV aged","x":3,"y":1.85},{"s":"K6","g":"UV aged","x":4,"y":2.07},{"s":"K6","g":"UV aged","x":4.48,"y":2.16},
      {"s":"G1","g":"UV aged (grey)","x":0,"y":0},{"s":"G1","g":"UV aged (grey)","x":0.1,"y":0.59},{"s":"G1","g":"UV aged (grey)","x":0.3,"y":1.08},{"s":"G1","g":"UV aged (grey)","x":0.6,"y":1.58},{"s":"G1","g":"UV aged (grey)","x":1,"y":2.09},{"s":"G1","g":"UV aged (grey)","x":1.5,"y":2.62},{"s":"G1","g":"UV aged (grey)","x":2,"y":3.06},{"s":"G1","g":"UV aged (grey)","x":3,"y":3.83},{"s":"G1","g":"UV aged (grey)","x":4,"y":4.48},{"s":"G1","g":"UV aged (grey)","x":4.57,"y":4.83},
      {"s":"OC1","g":"As Processed","x":0,"y":0},{"s":"OC1","g":"As Processed","x":0.3,"y":1.0},{"s":"OC1","g":"As Processed","x":1,"y":2.0},{"s":"OC1","g":"As Processed","x":2,"y":2.9},{"s":"OC1","g":"As Processed","x":3,"y":3.6},{"s":"OC1","g":"As Processed","x":4.75,"y":4.5},{"s":"OC1","g":"As Processed","x":6,"y":5.1},{"s":"OC1","g":"As Processed","x":7.7,"y":5.73},{"s":"OC1","g":"As Processed","x":10,"y":6.6},{"s":"OC1","g":"As Processed","x":13.16,"y":7.71},{"s":"OC1","g":"As Processed","x":16,"y":8.5},{"s":"OC1","g":"As Processed","x":19.07,"y":9.29},
      {"s":"OC2","g":"As Processed","x":0,"y":0},{"s":"OC2","g":"As Processed","x":0.2,"y":0.8},{"s":"OC2","g":"As Processed","x":0.5,"y":1.4},{"s":"OC2","g":"As Processed","x":0.89,"y":1.9},{"s":"OC2","g":"As Processed","x":1.57,"y":2.75},{"s":"OC2","g":"As Processed","x":2.48,"y":3.58},{"s":"OC2","g":"As Processed","x":3.4,"y":4.27},{"s":"OC2","g":"As Processed","x":4.75,"y":4.97},{"s":"OC2","g":"As Processed","x":6.57,"y":5.75},{"s":"OC2","g":"As Processed","x":7.8,"y":6.28},
      {"s":"OC3","g":"As Processed","x":0,"y":0},{"s":"OC3","g":"As Processed","x":0.3,"y":0.8},{"s":"OC3","g":"As Processed","x":1,"y":1.7},{"s":"OC3","g":"As Processed","x":2,"y":2.5},{"s":"OC3","g":"As Processed","x":3,"y":3.15},{"s":"OC3","g":"As Processed","x":4.75,"y":4.05},{"s":"OC3","g":"As Processed","x":6,"y":4.6},{"s":"OC3","g":"As Processed","x":7.7,"y":5.13},{"s":"OC3","g":"As Processed","x":10,"y":5.8},{"s":"OC3","g":"As Processed","x":13.16,"y":6.66},{"s":"OC3","g":"As Processed","x":15,"y":7.1},{"s":"OC3","g":"As Processed","x":16.97,"y":7.5},
      {"s":"OC4","g":"As Processed","x":0.3,"y":0.3},{"s":"OC4","g":"As Processed","x":0.8,"y":0.9},{"s":"OC4","g":"As Processed","x":1.34,"y":1.36},{"s":"OC4","g":"As Processed","x":2,"y":1.8},{"s":"OC4","g":"As Processed","x":3,"y":2.3},{"s":"OC4","g":"As Processed","x":4.3,"y":2.75},{"s":"OC4","g":"As Processed","x":6,"y":3.3},{"s":"OC4","g":"As Processed","x":7.7,"y":3.79},{"s":"OC4","g":"As Processed","x":9,"y":4.15},{"s":"OC4","g":"As Processed","x":10.5,"y":4.45},{"s":"OC4","g":"As Processed","x":12,"y":4.75},{"s":"OC4","g":"As Processed","x":12.3,"y":4.83},{"s":"OC4","g":"As Processed","x":12.5,"y":4.72},
      {"s":"OC5","g":"As Processed","x":0,"y":0},{"s":"OC5","g":"As Processed","x":0.43,"y":0.53},{"s":"OC5","g":"As Processed","x":1,"y":0.95},{"s":"OC5","g":"As Processed","x":2,"y":1.5},{"s":"OC5","g":"As Processed","x":3,"y":1.85},{"s":"OC5","g":"As Processed","x":4.3,"y":2.19},{"s":"OC5","g":"As Processed","x":6,"y":2.6},{"s":"OC5","g":"As Processed","x":7.7,"y":2.89},{"s":"OC5","g":"As Processed","x":10,"y":3.4},{"s":"OC5","g":"As Processed","x":13.16,"y":3.93},{"s":"OC5","g":"As Processed","x":16,"y":4.5},{"s":"OC5","g":"As Processed","x":19,"y":5.1},{"s":"OC5","g":"As Processed","x":21.7,"y":5.63}
        ]}, "mark": {"type": "line", "clip": true, "strokeWidth": 1.5, "interpolate": "monotone"},
         "encoding": {
           "x": {"field": "x", "type": "quantitative", "scale": {"domain": [0, 30], "nice": false, "zero": false}, "axis": {"orient": "bottom", "values": [0, 10, 20, 30], "tickColor": "black", "tickWidth": 1.5, "tickSize": 8, "labelPadding": 6, "title": "Strain (dL/L₀, % )", "titleY": 70, "titleBaseline": "alphabetic"}},
           "y": {"field": "y", "type": "quantitative", "scale": {"domain": [0, 10], "nice": false, "zero": false}, "axis": {"orient": "left", "values": [0, 2, 4, 6, 8, 10], "tickColor": "black", "tickWidth": 1.5, "tickSize": 8, "labelPadding": 4, "title": "Stress (MPa)", "titleX": -55, "titleY": 121.5, "titleBaseline": "alphabetic"}},
           "color": {"field": "g", "type": "nominal", "scale": {"domain": ["As Processed", "UV aged", "UV aged (grey)"], "range": ["#ED7D31", "#000000", "#8C8C8C"]}, "legend": null},
           "detail": {"field": "s", "type": "nominal"}
         }},
        {"data": {"values": [{"v": 0}, {"v": 10}, {"v": 20}, {"v": 30}]}, "mark": {"type": "tick", "orient": "vertical", "size": 13, "thickness": 1.5, "yOffset": 1.5, "color": "black", "opacity": 1},
         "encoding": {"x": {"field": "v", "type": "quantitative", "scale": {"domain": [0, 30], "nice": false, "zero": false}, "axis": null}, "y": {"datum": 0, "type": "quantitative", "scale": {"domain": [0, 10], "nice": false, "zero": false}, "axis": null}}},
        {"data": {"values": [{"v": 2}, {"v": 4}, {"v": 6}, {"v": 8}, {"v": 12}, {"v": 14}, {"v": 16}, {"v": 18}, {"v": 22}, {"v": 24}, {"v": 26}, {"v": 28}]}, "mark": {"type": "tick", "orient": "vertical", "size": 5, "thickness": 1.5, "yOffset": -2.5, "color": "black", "opacity": 1},
         "encoding": {"x": {"field": "v", "type": "quantitative", "scale": {"domain": [0, 30], "nice": false, "zero": false}, "axis": null}, "y": {"datum": 0, "type": "quantitative", "scale": {"domain": [0, 10], "nice": false, "zero": false}, "axis": null}}},
        {"data": {"values": [{"v": 0}, {"v": 2}, {"v": 4}, {"v": 6}, {"v": 8}, {"v": 10}]}, "mark": {"type": "tick", "orient": "horizontal", "size": 13, "thickness": 1.5, "xOffset": -1.5, "color": "black", "opacity": 1},
         "encoding": {"y": {"field": "v", "type": "quantitative", "scale": {"domain": [0, 10], "nice": false, "zero": false}, "axis": null}, "x": {"datum": 0, "type": "quantitative", "scale": {"domain": [0, 30], "nice": false, "zero": false}, "axis": null}}},
        {"data": {"values": [{"v": 0.4}, {"v": 0.8}, {"v": 1.2}, {"v": 1.6}, {"v": 2.4}, {"v": 2.8}, {"v": 3.2}, {"v": 3.6}, {"v": 4.4}, {"v": 4.8}, {"v": 5.2}, {"v": 5.6}, {"v": 6.4}, {"v": 6.8}, {"v": 7.2}, {"v": 7.6}, {"v": 8.4}, {"v": 8.8}, {"v": 9.2}, {"v": 9.6}]}, "mark": {"type": "tick", "orient": "horizontal", "size": 5, "thickness": 1.5, "xOffset": 2.5, "color": "black", "opacity": 1},
         "encoding": {"y": {"field": "v", "type": "quantitative", "scale": {"domain": [0, 10], "nice": false, "zero": false}, "axis": null}, "x": {"datum": 0, "type": "quantitative", "scale": {"domain": [0, 30], "nice": false, "zero": false}, "axis": null}}},
        {"data": {"values": [{"x": 13.62, "y": 1.44, "label": "= 294 mJ·cm"}]}, "mark": {"type": "text", "text": "H", "font": "Liberation Sans", "color": "black", "fontStyle": "italic", "fontSize": 24, "align": "left", "baseline": "alphabetic"},
         "encoding": {"x": {"field": "x", "type": "quantitative", "scale": {"domain": [0, 30], "nice": false, "zero": false}, "axis": null}, "y": {"field": "y", "type": "quantitative", "scale": {"domain": [0, 10], "nice": false, "zero": false}, "axis": null}}},
        {"data": {"values": [{"x": 13.62, "y": 1.44, "label": "= 294 mJ·cm"}]}, "mark": {"type": "text", "text": "e, initial", "font": "Liberation Sans", "color": "black", "fontSize": 14.5, "dx": 15, "dy": 4, "align": "left", "baseline": "alphabetic"},
         "encoding": {"x": {"field": "x", "type": "quantitative", "scale": {"domain": [0, 30], "nice": false, "zero": false}, "axis": null}, "y": {"field": "y", "type": "quantitative", "scale": {"domain": [0, 10], "nice": false, "zero": false}, "axis": null}}},
        {"data": {"values": [{"x": 13.62, "y": 1.44, "label": "= 294 mJ·cm"}]}, "mark": {"type": "text", "font": "Liberation Sans", "color": "black", "fontSize": 24, "dx": 72, "align": "left", "baseline": "alphabetic"},
         "encoding": {"x": {"field": "x", "type": "quantitative", "scale": {"domain": [0, 30], "nice": false, "zero": false}, "axis": null}, "y": {"field": "y", "type": "quantitative", "scale": {"domain": [0, 10], "nice": false, "zero": false}, "axis": null}, "text": {"field": "label"}}},
        {"data": {"values": [{"x": 13.62, "y": 1.44, "label": "= 294 mJ·cm"}]}, "mark": {"type": "text", "text": "-2", "font": "Liberation Sans", "color": "black", "fontSize": 15, "dx": 212, "dy": -11, "align": "left", "baseline": "alphabetic"},
         "encoding": {"x": {"field": "x", "type": "quantitative", "scale": {"domain": [0, 30], "nice": false, "zero": false}, "axis": null}, "y": {"field": "y", "type": "quantitative", "scale": {"domain": [0, 10], "nice": false, "zero": false}, "axis": null}}}
      ],
      "resolve": {"axis": {"x": "independent", "y": "independent"}}
    },
    {
      "width": 440, "height": 241,
      "title": {"text": "d", "anchor": "start", "frame": "group", "orient": "top", "offset": 0, "dx": -129, "dy": 62, "baseline": "alphabetic", "fontSize": 34, "fontWeight": "bold", "font": "Liberation Sans", "color": "black"},
      "layer": [
        {"data": {"values": [
      {"s":"KD1","g":"UV aged","x":0,"y":5.3},{"s":"KD1","g":"UV aged","x":0.05,"y":5.6},{"s":"KD1","g":"UV aged","x":0.11,"y":7.0},{"s":"KD1","g":"UV aged","x":0.14,"y":9.5},{"s":"KD1","g":"UV aged","x":0.16,"y":11.4},{"s":"KD1","g":"UV aged","x":0.2,"y":12.8},{"s":"KD1","g":"UV aged","x":0.29,"y":13.6},{"s":"KD1","g":"UV aged","x":0.35,"y":15.2},{"s":"KD1","g":"UV aged","x":0.445,"y":18.6},{"s":"KD1","g":"UV aged","x":0.536,"y":20.8},{"s":"KD1","g":"UV aged","x":0.627,"y":21.7},{"s":"KD1","g":"UV aged","x":0.68,"y":22.3},{"s":"KD1","g":"UV aged","x":0.75,"y":23.5},{"s":"KD1","g":"UV aged","x":0.81,"y":25.0},{"s":"KD1","g":"UV aged","x":0.864,"y":26.2},
      {"s":"KD2","g":"UV aged","x":0,"y":5.0},{"s":"KD2","g":"UV aged","x":0.05,"y":6.4},{"s":"KD2","g":"UV aged","x":0.17,"y":9.7},{"s":"KD2","g":"UV aged","x":0.355,"y":14.1},{"s":"KD2","g":"UV aged","x":0.536,"y":18.0},{"s":"KD2","g":"UV aged","x":0.65,"y":20.0},{"s":"KD2","g":"UV aged","x":0.78,"y":21.9},{"s":"KD2","g":"UV aged","x":0.9,"y":24.0},{"s":"KD2","g":"UV aged","x":1.006,"y":26.4},
      {"s":"KD3","g":"UV aged","x":0,"y":1.4},{"s":"KD3","g":"UV aged","x":0.11,"y":4.75},{"s":"KD3","g":"UV aged","x":0.26,"y":6.9},{"s":"KD3","g":"UV aged","x":0.475,"y":9.3},{"s":"KD3","g":"UV aged","x":0.72,"y":12.2},{"s":"KD3","g":"UV aged","x":0.864,"y":15.0},
      {"s":"KG","g":"UV aged (grey)","x":0,"y":0.6},{"s":"KG","g":"UV aged (grey)","x":0.17,"y":2.5},{"s":"KG","g":"UV aged (grey)","x":0.355,"y":4.75},{"s":"KG","g":"UV aged (grey)","x":0.536,"y":7.0},{"s":"KG","g":"UV aged (grey)","x":0.65,"y":9.0},{"s":"KG","g":"UV aged (grey)","x":0.748,"y":11.4},
      {"s":"OD1","g":"As Processed","x":0,"y":3.0},{"s":"OD1","g":"As Processed","x":0.08,"y":6.0},{"s":"OD1","g":"As Processed","x":0.23,"y":8.8},{"s":"OD1","g":"As Processed","x":0.475,"y":12.8},{"s":"OD1","g":"As Processed","x":0.627,"y":15.5},{"s":"OD1","g":"As Processed","x":0.78,"y":19.5},{"s":"OD1","g":"As Processed","x":1.05,"y":25.0},{"s":"OD1","g":"As Processed","x":1.38,"y":28.5},{"s":"OD1","g":"As Processed","x":1.69,"y":31.6},{"s":"OD1","g":"As Processed","x":1.99,"y":35.2},{"s":"OD1","g":"As Processed","x":2.2,"y":36.8},{"s":"OD1","g":"As Processed","x":2.45,"y":38.1},{"s":"OD1","g":"As Processed","x":2.52,"y":38.6},
      {"s":"OD2","g":"As Processed","x":0,"y":2.0},{"s":"OD2","g":"As Processed","x":0.1,"y":4.5},{"s":"OD2","g":"As Processed","x":0.25,"y":7.5},{"s":"OD2","g":"As Processed","x":0.45,"y":11.0},{"s":"OD2","g":"As Processed","x":0.6,"y":14.0},{"s":"OD2","g":"As Processed","x":0.78,"y":17.5},{"s":"OD2","g":"As Processed","x":1.08,"y":21.9},{"s":"OD2","g":"As Processed","x":1.38,"y":25.2},{"s":"OD2","g":"As Processed","x":1.69,"y":28.5},{"s":"OD2","g":"As Processed","x":1.93,"y":31.5},{"s":"OD2","g":"As Processed","x":2.2,"y":34.5},{"s":"OD2","g":"As Processed","x":2.45,"y":36.6},{"s":"OD2","g":"As Processed","x":2.66,"y":37.9},{"s":"OD2","g":"As Processed","x":2.85,"y":38.6},{"s":"OD2","g":"As Processed","x":3.07,"y":38.9},
      {"s":"OD3","g":"As Processed","x":0,"y":3.8},{"s":"OD3","g":"As Processed","x":0.1,"y":5.5},{"s":"OD3","g":"As Processed","x":0.25,"y":8.0},{"s":"OD3","g":"As Processed","x":0.45,"y":11.2},{"s":"OD3","g":"As Processed","x":0.6,"y":14.5},{"s":"OD3","g":"As Processed","x":0.78,"y":18.2},{"s":"OD3","g":"As Processed","x":1.08,"y":23.3},{"s":"OD3","g":"As Processed","x":1.38,"y":26.9},{"s":"OD3","g":"As Processed","x":1.69,"y":30.0},{"s":"OD3","g":"As Processed","x":1.85,"y":32.5},{"s":"OD3","g":"As Processed","x":1.92,"y":33.6},{"s":"OD3","g":"As Processed","x":1.93,"y":31.8}
        ]}, "mark": {"type": "line", "clip": true, "strokeWidth": 1.5, "interpolate": "monotone"},
         "encoding": {
           "x": {"field": "x", "type": "quantitative", "scale": {"domain": [0, 4], "nice": false, "zero": false}, "axis": {"orient": "bottom", "values": [0, 1, 2, 3, 4], "tickColor": "black", "tickWidth": 1.5, "tickSize": 8, "labelPadding": 8, "title": "Strain (dL/L₀, %)", "titleY": 70, "titleBaseline": "alphabetic"}},
           "y": {"field": "y", "type": "quantitative", "scale": {"domain": [0, 40], "nice": false, "zero": false}, "axis": {"orient": "left", "values": [0, 10, 20, 30, 40], "tickColor": "black", "tickWidth": 1.5, "tickSize": 8, "labelPadding": 11, "title": "Stress (MPa)", "titleX": -75, "titleY": 123, "titleBaseline": "alphabetic"}},
           "color": {"field": "g", "type": "nominal", "scale": {"domain": ["As Processed", "UV aged", "UV aged (grey)"], "range": ["#ED7D31", "#000000", "#8C8C8C"]}, "legend": null},
           "detail": {"field": "s", "type": "nominal"}
         }},
        {"data": {"values": [{"v": 0}, {"v": 1}, {"v": 2}, {"v": 3}, {"v": 4}]}, "mark": {"type": "tick", "orient": "vertical", "size": 13, "thickness": 1.5, "yOffset": 1.5, "color": "black", "opacity": 1},
         "encoding": {"x": {"field": "v", "type": "quantitative", "scale": {"domain": [0, 4], "nice": false, "zero": false}, "axis": null}, "y": {"datum": 0, "type": "quantitative", "scale": {"domain": [0, 40], "nice": false, "zero": false}, "axis": null}}},
        {"data": {"values": [{"v": 0.2}, {"v": 0.4}, {"v": 0.6}, {"v": 0.8}, {"v": 1.2}, {"v": 1.4}, {"v": 1.6}, {"v": 1.8}, {"v": 2.2}, {"v": 2.4}, {"v": 2.6}, {"v": 2.8}, {"v": 3.2}, {"v": 3.4}, {"v": 3.6}, {"v": 3.8}]}, "mark": {"type": "tick", "orient": "vertical", "size": 5, "thickness": 1.5, "yOffset": -2.5, "color": "black", "opacity": 1},
         "encoding": {"x": {"field": "v", "type": "quantitative", "scale": {"domain": [0, 4], "nice": false, "zero": false}, "axis": null}, "y": {"datum": 0, "type": "quantitative", "scale": {"domain": [0, 40], "nice": false, "zero": false}, "axis": null}}},
        {"data": {"values": [{"v": 0}, {"v": 10}, {"v": 20}, {"v": 30}, {"v": 40}]}, "mark": {"type": "tick", "orient": "horizontal", "size": 13, "thickness": 1.5, "xOffset": -1.5, "color": "black", "opacity": 1},
         "encoding": {"y": {"field": "v", "type": "quantitative", "scale": {"domain": [0, 40], "nice": false, "zero": false}, "axis": null}, "x": {"datum": 0, "type": "quantitative", "scale": {"domain": [0, 4], "nice": false, "zero": false}, "axis": null}}},
        {"data": {"values": [{"v": 5}, {"v": 15}, {"v": 25}, {"v": 35}]}, "mark": {"type": "tick", "orient": "horizontal", "size": 5, "thickness": 1.5, "xOffset": 2.5, "color": "black", "opacity": 1},
         "encoding": {"y": {"field": "v", "type": "quantitative", "scale": {"domain": [0, 40], "nice": false, "zero": false}, "axis": null}, "x": {"datum": 0, "type": "quantitative", "scale": {"domain": [0, 4], "nice": false, "zero": false}, "axis": null}}},
        {"data": {"values": [{"x": 1.733, "y": 6.8, "label": "= 367 mJ·cm"}]}, "mark": {"type": "text", "text": "H", "font": "Liberation Sans", "color": "black", "fontStyle": "italic", "fontSize": 24, "align": "left", "baseline": "alphabetic"},
         "encoding": {"x": {"field": "x", "type": "quantitative", "scale": {"domain": [0, 4], "nice": false, "zero": false}, "axis": null}, "y": {"field": "y", "type": "quantitative", "scale": {"domain": [0, 40], "nice": false, "zero": false}, "axis": null}}},
        {"data": {"values": [{"x": 1.733, "y": 6.8, "label": "= 367 mJ·cm"}]}, "mark": {"type": "text", "text": "e, initial", "font": "Liberation Sans", "color": "black", "fontSize": 14.5, "dx": 15, "dy": 4, "align": "left", "baseline": "alphabetic"},
         "encoding": {"x": {"field": "x", "type": "quantitative", "scale": {"domain": [0, 4], "nice": false, "zero": false}, "axis": null}, "y": {"field": "y", "type": "quantitative", "scale": {"domain": [0, 40], "nice": false, "zero": false}, "axis": null}}},
        {"data": {"values": [{"x": 1.733, "y": 6.8, "label": "= 367 mJ·cm"}]}, "mark": {"type": "text", "font": "Liberation Sans", "color": "black", "fontSize": 24, "dx": 72, "align": "left", "baseline": "alphabetic"},
         "encoding": {"x": {"field": "x", "type": "quantitative", "scale": {"domain": [0, 4], "nice": false, "zero": false}, "axis": null}, "y": {"field": "y", "type": "quantitative", "scale": {"domain": [0, 40], "nice": false, "zero": false}, "axis": null}, "text": {"field": "label"}}},
        {"data": {"values": [{"x": 1.733, "y": 6.8, "label": "= 367 mJ·cm"}]}, "mark": {"type": "text", "text": "-2", "font": "Liberation Sans", "color": "black", "fontSize": 15, "dx": 212, "dy": -11, "align": "left", "baseline": "alphabetic"},
         "encoding": {"x": {"field": "x", "type": "quantitative", "scale": {"domain": [0, 4], "nice": false, "zero": false}, "axis": null}, "y": {"field": "y", "type": "quantitative", "scale": {"domain": [0, 40], "nice": false, "zero": false}, "axis": null}}}
      ],
      "resolve": {"axis": {"x": "independent", "y": "independent"}}
    }
  ],
  "config": {
    "font": "Liberation Sans",
    "view": {"stroke": "black", "strokeWidth": 1.5},
    "axis": {"grid": false, "domainColor": "black", "domainWidth": 1.5, "labelColor": "black", "labelFont": "Liberation Sans", "labelFontSize": 24, "labelFlush": false, "labelOverlap": false, "titleColor": "black", "titleFont": "Liberation Sans", "titleFontSize": 29, "titleFontWeight": "normal"}
  }
}
